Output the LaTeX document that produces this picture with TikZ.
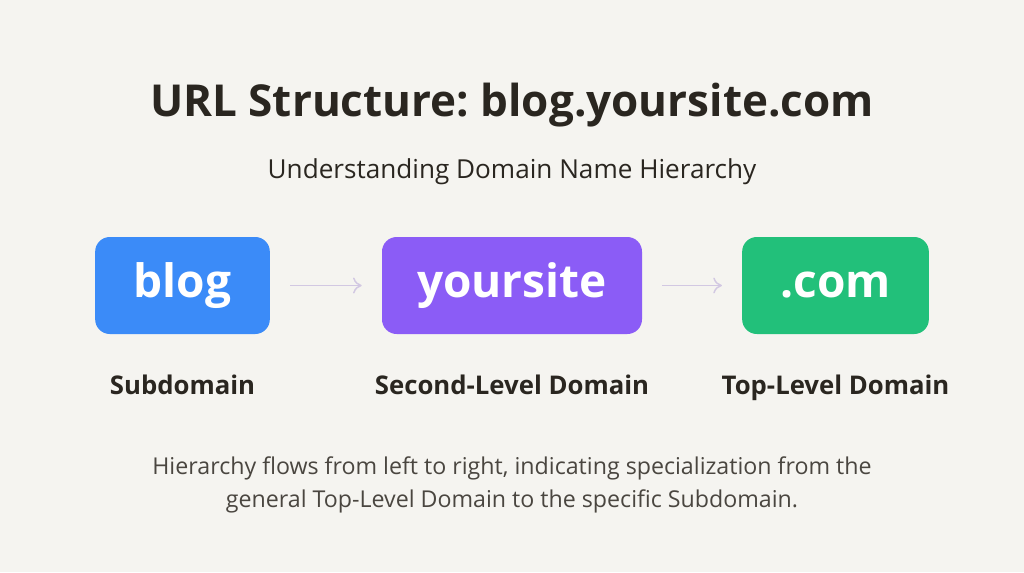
\documentclass[tikz,border=0pt]{standalone}
\usepackage{fontspec}
\setmainfont{Open Sans}
\frenchspacing
\usetikzlibrary{positioning, arrows.meta}
\definecolor{bgcol}{HTML}{F5F4F0}
\definecolor{inkcol}{HTML}{2A2620}
\definecolor{greycol}{HTML}{4A4640}
\definecolor{subcol}{HTML}{3B8BF8}
\definecolor{sldcol}{HTML}{8B5CF6}
\definecolor{tldcol}{HTML}{22C07A}
\definecolor{flowcol}{HTML}{D2C8E2}
\tikzstyle{part} = [rectangle, rounded corners=11pt, minimum height=72.75pt,
    text=white, font=\fontsize{34.5}{40}\selectfont\bfseries]
\tikzstyle{caption} = [text=inkcol, font=\fontsize{19.3}{23}\selectfont\bfseries]
\tikzstyle{flow} = [draw=flowcol, line width=1.1pt, -{To[length=6.5pt,width=12pt]},
    shorten >=15pt, shorten <=15pt]

\begin{document}
\begin{tikzpicture}[x=0.75pt, y=-0.75pt, node distance=27pt]
        % Canvas
        \fill [bgcol] (0,0) rectangle (1024,572);
        \useasboundingbox (0,0) rectangle (1024,572);
        % Heading
        \node [text=inkcol, font=\fontsize{33}{38}\selectfont\bfseries] (title) at (512,105)
            {URL Structure: blog.yoursite.com};
        \node [text=inkcol, font=\fontsize{19.6}{23}\selectfont] (subtitle) at (512,172)
            {Understanding Domain Name Hierarchy};
        % Place nodes
        \node [part, fill=subcol, minimum width=131pt] (sub) at (182.5,285.5) {blog};
        \node [part, fill=sldcol, minimum width=195pt] (sld) at (512,285.5) {yoursite};
        \node [part, fill=tldcol, minimum width=140pt] (tld) at (835.5,285.5) {.com};
        % Captions
        \node [caption, below=of sub] (sub_info) {Subdomain};
        \node [caption, below=of sld] (sld_info) {Second-Level Domain};
        \node [caption, below=of tld] (tld_info) {Top-Level Domain};
        % Draw edges
        \path [flow] (sub) -- (sld);
        \path [flow] (sld) -- (tld);
        % Note
        \node [text=greycol, align=center, font=\fontsize{17.4}{24.75}\selectfont] (note) at (512,484.5)
            {Hierarchy flows from left to right, indicating specialization from the\\
             general Top-Level Domain to the specific Subdomain.};
    \end{tikzpicture}
\end{document}
